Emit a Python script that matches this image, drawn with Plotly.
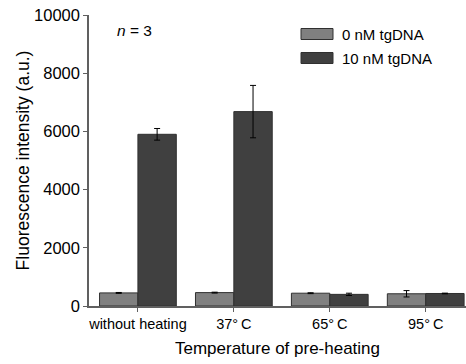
import plotly.graph_objects as go

categories = ["without heating", "37\u00b0\u2009C", "65\u00b0\u2009C", "95\u00b0\u2009C"]
series_names = ["0 nM tgDNA", "10 nM tgDNA"]
zero_vals = [450, 460, 440, 420]
zero_err = [15, 15, 15, 110]
ten_vals = [5900, 6680, 400, 430]
ten_err = [200, 900, 40, 12]
y_ticks = [0, 2000, 4000, 6000, 8000, 10000]
y_ticktext = ["0", "2000", "4000", "6000", "8000", "10000"]

FONT = "Liberation Sans, Arial, sans-serif"
colors = ["#808080", "#404040"]
edge = "#303030"

fig = go.Figure()
for name, vals, errs, col in zip(series_names, [zero_vals, ten_vals], [zero_err, ten_err], colors):
    fig.add_trace(go.Bar(
        x=categories, y=vals, name=name, showlegend=False,
        marker=dict(color=col, line=dict(color=edge, width=1)),
        error_y=dict(type="data", array=errs, color="black", thickness=1, width=3),
    ))

# legend drawn as wide swatches (paper coords)
shapes = []
annotations = []
plot_w = 466 - 89
plot_h = 364 - 15 - 58
def px_x(px):
    return (px - 89) / plot_w
def px_y(py):
    return 1 - (py - 15) / plot_h
for i, (name, col) in enumerate(zip(series_names, colors)):
    yc = 34 + 24 * i
    shapes.append(dict(type="rect", xref="paper", yref="paper",
                       x0=px_x(301), x1=px_x(333), y0=px_y(yc + 5.5), y1=px_y(yc - 5.5),
                       fillcolor=col, line=dict(color=edge, width=1)))
    annotations.append(dict(text=name, x=px_x(340), y=px_y(yc), xref="paper", yref="paper",
                            xanchor="left", yanchor="middle", showarrow=False,
                            font=dict(family=FONT, size=15, color="black")))

annotations.append(dict(text="<i>n</i> = 3", x=px_x(115), y=px_y(30), xref="paper", yref="paper",
                        xanchor="left", yanchor="middle", showarrow=False,
                        font=dict(family=FONT, size=15.5, color="black")))

fig.update_layout(
    width=466, height=364,
    margin=dict(l=89, r=0, t=15, b=58),
    paper_bgcolor="white", plot_bgcolor="white",
    barmode="group", bargap=0.2, bargroupgap=0,
    font=dict(family=FONT, size=14, color="black"),
    showlegend=False,
    xaxis=dict(
        range=[-0.51, 3.42], showline=True, linecolor="#606060", linewidth=1.5,
        ticks="outside", ticklen=4, tickcolor="#606060",
        tickfont=dict(size=14.5),
        title=dict(text="Temperature of pre-heating", font=dict(size=17), standoff=11),
    ),
    yaxis=dict(
        range=[0, 10000], tickvals=y_ticks, ticktext=y_ticktext, showline=True,
        linecolor="#606060", linewidth=1.5, ticks="outside", ticklen=4, tickcolor="#606060",
        showgrid=False, zeroline=False, tickfont=dict(size=16.5),
        title=dict(text="Fluorescence intensity (a.u.)", font=dict(size=17.5), standoff=0),
    ),
    shapes=shapes,
    annotations=annotations,
)

fig.write_html("out.html")
